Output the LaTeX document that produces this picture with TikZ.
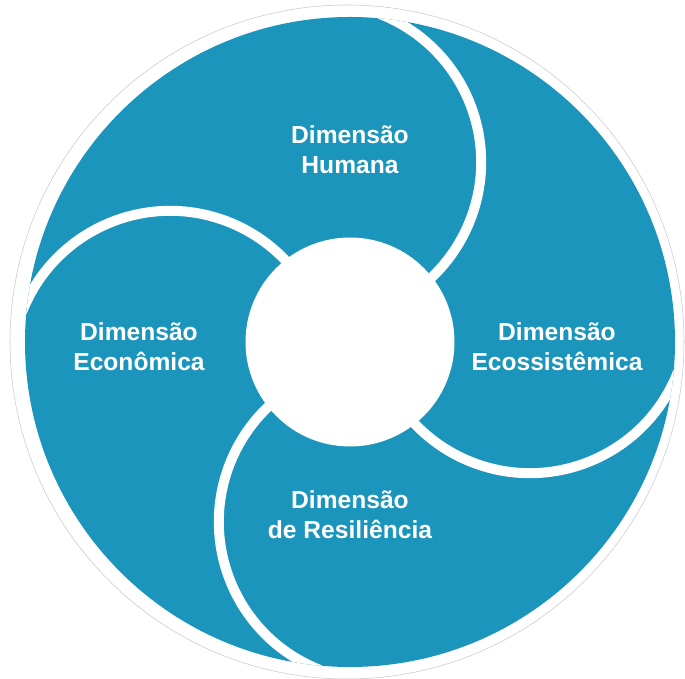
\documentclass[tikz,border=0pt]{standalone}
\usepackage{fontspec}
\setmainfont{Liberation Sans}
\usepackage{tikz}
\definecolor{dimblue}{HTML}{1B95BB}
\tikzset{
  whiteband/.style={white, line width=0.2cm},
  dimlabel/.style={text=white, font=\bfseries\fontsize{14}{17}\selectfont, align=center}
}

\begin{document}
\begin{tikzpicture}
    \useasboundingbox (-7, -6.74) rectangle (6.7, 6.84);
    \draw[black!22, line width=0.3pt] (-0.06, 0) circle (6.74);
    \fill[dimblue] (0, 0) circle (6.5);
    \begin{scope}
      \clip (0, 0) circle (6.5);
      \foreach \a in {8.8, 98.8, 188.8, 278.8}
        {
          \draw[whiteband] (\a:3.64) ++(\a-30:3.18) arc[start angle=\a-30, end angle=\a-150, radius=3.18];
        }
    \end{scope}
    \fill[white] (0, 0) circle (2.09);

    \node[dimlabel] (humana) at (0, 3.84) {Dimensão\\Humana};
    \node[dimlabel] (economica) at (-4.22, -0.1) {Dimensão\\Econômica};
    \node[dimlabel] (ecossistemica) at (4.14, -0.1) {Dimensão\\Ecossistêmica};
    \node[dimlabel] (resiliencia) at (0, -3.46) {Dimensão\\de Resiliência};
\end{tikzpicture}
\end{document}
